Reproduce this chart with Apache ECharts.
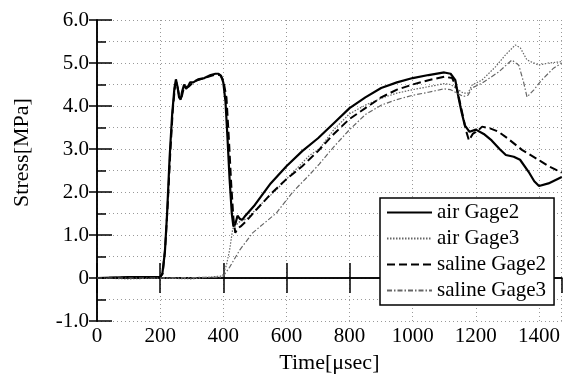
<!DOCTYPE html>
<html>
<head>
<meta charset="utf-8">
<script src="https://cdn.jsdelivr.net/npm/echarts@6/dist/echarts.min.js"></script>
<style>
html, body { margin: 0; padding: 0; background: #fff; }
#main { width: 563px; height: 382px; }
</style>
</head>
<body>
<div id="main"></div>
<script>
// [time usec, stress MPa]
var airGage2 = [[0,0],[100,0.02],[200,0.02],[207,0.1],[215,0.6],[222,1.5],[230,2.8],[238,3.8],[245,4.4],[250,4.62],[255,4.45],[260,4.2],[265,4.15],[270,4.35],[276,4.5],[282,4.4],[288,4.45],[295,4.55],[305,4.55],[320,4.62],[340,4.65],[360,4.72],[375,4.75],[385,4.75],[393,4.7],[400,4.55],[407,4.1],[413,3.3],[420,2.3],[427,1.5],[432,1.2],[438,1.25],[445,1.45],[452,1.38],[460,1.35],[470,1.45],[500,1.7],[550,2.2],[600,2.6],[650,2.95],[700,3.25],[750,3.6],[800,3.95],[850,4.2],[900,4.42],[950,4.55],[1000,4.65],[1050,4.72],[1100,4.78],[1120,4.75],[1135,4.6],[1145,4.2],[1155,3.85],[1165,3.55],[1180,3.4],[1200,3.45],[1225,3.35],[1250,3.2],[1275,3.0],[1295,2.86],[1320,2.82],[1340,2.75],[1367,2.47],[1385,2.25],[1400,2.14],[1430,2.2],[1472,2.35]];
var airGage3 = [[0,0],[100,-0.02],[200,0],[300,-0.02],[398,0.05],[410,0.3],[420,0.65],[430,1.15],[450,1.3],[475,1.38],[520,1.72],[568,2.05],[620,2.45],[673,2.85],[704,3.0],[750,3.45],[800,3.82],[850,4.02],[900,4.18],[950,4.3],[1000,4.38],[1050,4.45],[1100,4.52],[1120,4.5],[1140,4.4],[1160,4.3],[1175,4.3],[1188,4.49],[1219,4.6],[1262,4.91],[1294,5.19],[1325,5.42],[1341,5.35],[1362,5.07],[1399,4.95],[1430,5.0],[1472,5.03]];
var salineGage2 = [[0,0],[200,0.02],[208,0.1],[216,0.7],[224,1.7],[232,2.9],[240,3.9],[247,4.45],[252,4.55],[260,4.25],[268,4.2],[276,4.45],[290,4.45],[310,4.58],[340,4.65],[370,4.72],[390,4.72],[400,4.6],[410,4.2],[418,3.2],[425,2.2],[432,1.4],[438,1.05],[445,1.15],[455,1.2],[470,1.3],[500,1.55],[550,1.95],[600,2.3],[650,2.6],[700,2.95],[750,3.35],[800,3.7],[850,3.95],[900,4.2],[950,4.38],[1000,4.5],[1050,4.6],[1100,4.68],[1125,4.65],[1140,4.4],[1155,3.9],[1170,3.4],[1178,3.2],[1190,3.35],[1210,3.45],[1220,3.52],[1245,3.48],[1272,3.4],[1300,3.25],[1346,2.98],[1400,2.74],[1430,2.6],[1472,2.45]];
var salineGage3 = [[0,0],[200,0],[398,0.02],[420,0.25],[452,0.65],[493,1.05],[568,1.51],[620,2.0],[673,2.4],[704,2.65],[750,3.05],[800,3.45],[850,3.8],[900,4.02],[950,4.15],[1000,4.25],[1050,4.32],[1100,4.4],[1120,4.38],[1140,4.3],[1160,4.22],[1175,4.25],[1188,4.42],[1219,4.53],[1272,4.79],[1314,5.07],[1336,4.95],[1351,4.56],[1362,4.21],[1383,4.37],[1408,4.6],[1446,4.88],[1472,5.0]];

var seriesNames = ['air Gage2', 'air Gage3', 'saline Gage2', 'saline Gage3'];
var font = 'Liberation Serif';

var chart = echarts.init(document.getElementById('main'));

function lineSeries(name, data, color, width, type) {
	return {
		name: name,
		type: 'line',
		data: data,
		showSymbol: false,
		symbol: 'none',
		animation: false,
		lineStyle: { color: color, width: width, type: type },
		itemStyle: { color: color }
	};
}

var dotted = { color: '#999', type: [1, 3], width: 1 };

var option = {
	animation: false,
	grid: { left: 97, top: 20, right: 1, bottom: 61 },
	legend: {
		data: seriesNames,
		orient: 'vertical',
		left: 380,
		top: 198,
		padding: [4, 8, 4, 6],
		itemWidth: 45,
		itemHeight: 14,
		itemGap: 5,
		itemStyle: { opacity: 0 },
		backgroundColor: '#fff',
		borderColor: '#000',
		borderWidth: 1.5,
		borderRadius: 0,
		textStyle: { fontFamily: font, fontSize: 21, color: '#000' }
	},
	xAxis: [{
		type: 'value',
		min: 0,
		max: 1472,
		interval: 200,
		name: 'Time[\u03bcsec]',
		nameLocation: 'middle',
		nameGap: 29,
		nameTextStyle: { fontFamily: font, fontSize: 22, color: '#000' },
		axisLine: { lineStyle: { color: '#000', width: 1.5 } },
		axisTick: { inside: true, length: 15, lineStyle: { color: '#000', width: 1.5 } },
		axisLabel: {
			fontFamily: font, fontSize: 21, color: '#000', margin: 5, showMaxLabel: false,
			formatter: function(v) { return String(v); }
		},
		splitLine: { show: true, lineStyle: dotted }
	}, {
		type: 'value',
		position: 'top',
		min: 0,
		max: 1472,
		interval: 200,
		axisLine: { lineStyle: { color: '#000', width: 1.5 } },
		axisTick: { inside: true, length: 15, lineStyle: { color: '#000', width: 1.5 } },
		axisLabel: { show: false },
		splitLine: { show: false }
	}],
	yAxis: [{
		type: 'value',
		min: -1,
		max: 6,
		interval: 1,
		name: 'Stress[MPa]',
		nameLocation: 'middle',
		nameGap: 64,
		nameTextStyle: { fontFamily: font, fontSize: 22, color: '#000', padding: [0, 0, 0, 36] },
		axisLine: { lineStyle: { color: '#000', width: 1.5 } },
		axisTick: { inside: true, length: 15, lineStyle: { color: '#000', width: 1.5 } },
		minorTick: { show: true, splitNumber: 2, length: 9, lineStyle: { color: '#000', width: 1.5 } },
		axisLabel: {
			fontFamily: font, fontSize: 21, color: '#000', margin: 8,
			formatter: function(v) { return v === 0 ? '0' : v.toFixed(1); }
		},
		splitLine: { show: true, lineStyle: dotted },
		minorSplitLine: { show: true, lineStyle: dotted }
	}, {
		type: 'value',
		position: 'right',
		min: -1,
		max: 6,
		interval: 1,
		axisLine: { show: true, lineStyle: { color: '#000', width: 1.5 } },
		axisTick: { show: true, inside: true, length: 8, lineStyle: { color: '#000', width: 1.5 } },
		axisLabel: { show: false },
		splitLine: { show: false }
	}],
	series: [
		lineSeries('air Gage2', airGage2, '#000', 2.2, 'solid'),
		lineSeries('air Gage3', airGage3, '#666', 1.2, [1.5, 1.5]),
		lineSeries('saline Gage2', salineGage2, '#000', 2, [8, 4]),
		lineSeries('saline Gage3', salineGage3, '#666', 1.2, [5, 2, 1.5, 2])
	]
};

chart.setOption(option);
</script>
</body>
</html>
